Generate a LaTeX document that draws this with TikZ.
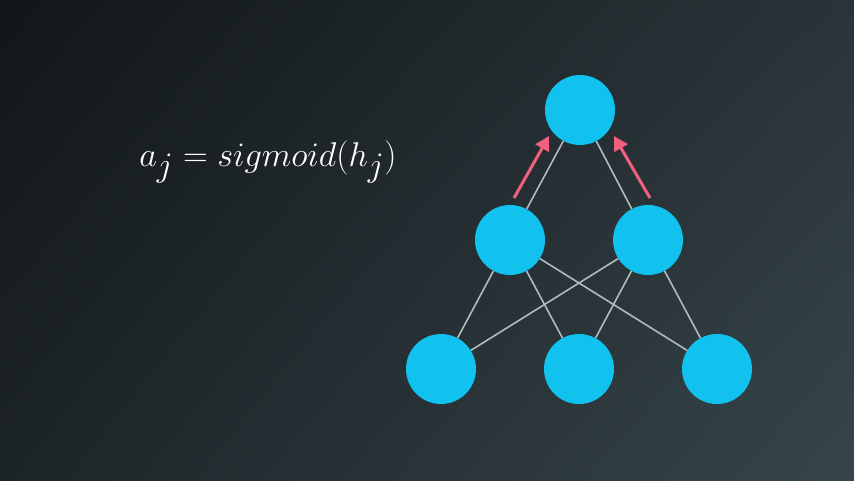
\documentclass[tikz,border=0pt]{standalone}
\usetikzlibrary{arrows.meta,shadings}
\definecolor{bgA}{HTML}{111619}
\definecolor{bgB}{HTML}{2A3438}
\definecolor{bgC}{HTML}{1D2427}
\definecolor{bgD}{HTML}{36454B}
\definecolor{neuron}{HTML}{12C2EE}
\definecolor{edgegray}{HTML}{B2BABE}
\definecolor{arrowpink}{HTML}{F2607F}
\pgfdeclarelayer{backdrop}
\pgfdeclarelayer{edges}
\pgfsetlayers{backdrop,edges,main}
\begin{document}
\begin{tikzpicture}[x=1pt,y=-1pt,
  neuronnode/.style={circle,fill=neuron,minimum size=70pt,inner sep=0pt},
  link/.style={draw=edgegray,line width=1.6pt},
  signal/.style={draw=arrowpink,line width=3pt,-{Triangle[length=14pt,width=15pt]}}]
\begin{pgfonlayer}{backdrop}
\shade[upper left=bgA,upper right=bgB,lower left=bgC,lower right=bgD] (0,0) rectangle (854,480);
\end{pgfonlayer}
\useasboundingbox (0,0) rectangle (854,480);
\node[text=white,font=\fontsize{34}{40}\selectfont,scale=1.38] (eq) at (268,162) {$a_j = sigmoid(h_j)$};
\node[neuronnode] (t) at (580,110) {};
\node[neuronnode] (m1) at (510,240) {};
\node[neuronnode] (m2) at (648,240) {};
\node[neuronnode] (b1) at (441,369) {};
\node[neuronnode] (b2) at (579,369) {};
\node[neuronnode] (b3) at (717,369) {};
\begin{pgfonlayer}{edges}
\path[link] (t) -- (m1) (t) -- (m2)
  (m1) -- (b1) (m1) -- (b2) (m1) -- (b3)
  (m2) -- (b1) (m2) -- (b2) (m2) -- (b3);
\end{pgfonlayer}
\coordinate (s1) at (514,198);
\coordinate (e1) at (549,136);
\coordinate (s2) at (650,198);
\coordinate (e2) at (614,136);
\draw[signal] (s1) -- (e1);
\draw[signal] (s2) -- (e2);
\end{tikzpicture}
\end{document}
